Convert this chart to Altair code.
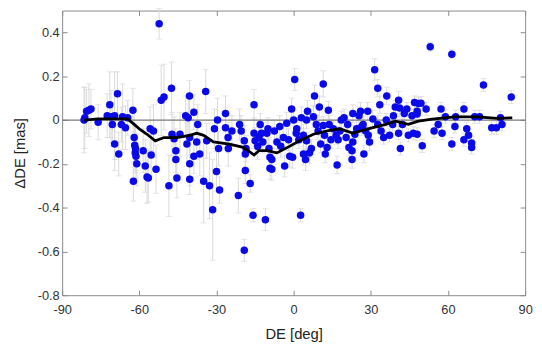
import altair as alt
import pandas as pd

# (DE [deg], dDE [mas], error [mas]), grouped by declination band
PTS_S80_S60 = [
    (-81.5, 0.00, 0.15), (-81.2, 0.01, 0.14), (-80.5, 0.04, 0.10), (-79.6, 0.045, 0.12),
    (-78.8, 0.05, 0.09), (-76.0, -0.01, 0.08), (-72.5, 0.02, 0.10), (-71.5, 0.07, 0.15),
    (-71.0, 0.015, 0.12), (-70.5, -0.02, 0.10), (-69.6, 0.02, 0.20), (-69.6, -0.11, 0.12),
    (-68.5, 0.12, 0.10), (-68.0, -0.155, 0.10), (-67.0, -0.02, 0.08), (-66.5, 0.015, 0.15),
    (-65.4, -0.035, 0.10), (-64.5, 0.01, 0.08), (-62.5, 0.045, 0.10), (-62.0, -0.08, 0.12),
    (-61.8, -0.115, 0.10), (-61.5, -0.13, 0.10), (-61.6, -0.15, 0.09), (-61.0, -0.20, 0.10),
    (-62.3, -0.28, 0.09), (-61.3, -0.165, 0.10),
]
PTS_S60_S45 = [
    (-58.5, -0.14, 0.10), (-57.7, -0.21, 0.12), (-57.0, -0.26, 0.12), (-56.5, -0.265, 0.11),
    (-55.4, -0.16, 0.10), (-55.8, -0.04, 0.10), (-54.5, -0.05, 0.12), (-53.5, -0.225, 0.11),
    (-52.3, 0.44, 0.07), (-51.5, 0.09, 0.16), (-50.4, 0.105, 0.15), (-48.5, -0.30, 0.14),
    (-47.5, 0.145, 0.12), (-47.3, -0.065, 0.10), (-46.5, -0.085, 0.10), (-45.8, -0.14, 0.10),
    (-45.8, -0.18, 0.10), (-45.4, -0.265, 0.09), (-44.2, -0.065, 0.10),
]
PTS_S45_S30 = [
    (-42.0, 0.02, 0.09), (-41.0, 0.01, 0.10), (-40.5, 0.11, 0.07), (-40.4, -0.08, 0.08),
    (-41.5, -0.11, 0.10), (-40.4, -0.20, 0.10), (-40.4, -0.27, 0.07), (-38.8, 0.035, 0.08),
    (-38.8, -0.165, 0.08), (-37.7, -0.10, 0.08), (-37.3, -0.02, 0.09), (-36.5, -0.155, 0.10),
    (-35.0, -0.28, 0.19), (-34.2, 0.13, 0.10), (-33.8, -0.095, 0.08), (-32.7, -0.30, 0.15),
    (-31.5, -0.41, 0.23), (-30.8, -0.04, 0.09), (-30.0, -0.235, 0.09),
]
PTS_S30_S15 = [
    (-29.6, 0.00, 0.10), (-29.2, -0.13, 0.08), (-28.8, -0.32, 0.06), (-26.5, 0.03, 0.08),
    (-26.5, -0.035, 0.09), (-25.5, -0.08, 0.07), (-25.4, -0.13, 0.08), (-24.0, -0.05, 0.07),
    (-21.5, -0.345, 0.08), (-21.0, -0.02, 0.07), (-20.4, -0.05, 0.07), (-19.2, -0.095, 0.07),
    (-18.8, -0.23, 0.06), (-18.5, -0.13, 0.06), (-18.8, -0.155, 0.06), (-19.2, -0.595, 0.05),
    (-16.9, -0.29, 0.04), (-15.8, -0.435, 0.03), (-15.4, 0.07, 0.07), (-15.4, -0.06, 0.07),
    (-15.0, -0.095, 0.06), (-14.0, -0.12, 0.06), (-13.5, -0.08, 0.05),
]
PTS_S15_N00 = [
    (-13.0, -0.02, 0.05), (-12.5, -0.06, 0.06), (-12.0, -0.10, 0.05), (-11.0, -0.455, 0.05),
    (-10.4, -0.06, 0.05), (-10.0, -0.04, 0.05), (-9.6, -0.13, 0.05), (-9.2, -0.17, 0.05),
    (-9.2, -0.22, 0.05), (-8.5, -0.18, 0.05), (-8.5, -0.225, 0.05), (-7.5, -0.05, 0.05),
    (-6.5, -0.10, 0.05), (-5.4, -0.03, 0.05), (-5.0, -0.12, 0.05), (-4.0, -0.08, 0.05),
    (-3.5, -0.21, 0.05), (-2.7, -0.015, 0.05), (-2.0, -0.09, 0.05), (-1.5, -0.165, 0.05),
    (-0.8, 0.05, 0.05), (-0.4, -0.17, 0.05), (0.0, 0.00, 0.05), (0.4, 0.185, 0.05),
]
PTS_N00_N15 = [
    (1.0, -0.06, 0.05), (1.2, -0.04, 0.05), (2.0, -0.09, 0.04), (2.7, -0.435, 0.03),
    (3.0, 0.01, 0.05), (3.8, -0.07, 0.05), (3.8, -0.155, 0.05), (4.6, -0.18, 0.05),
    (5.0, -0.095, 0.04), (5.0, 0.00, 0.04), (5.4, 0.04, 0.05), (6.2, -0.15, 0.05),
    (6.9, -0.13, 0.04), (7.7, 0.015, 0.05), (8.1, 0.11, 0.05), (8.8, -0.02, 0.04),
    (9.5, -0.05, 0.04), (10.0, 0.06, 0.05), (10.5, -0.11, 0.04), (11.5, 0.165, 0.06),
    (11.5, -0.025, 0.04), (12.0, -0.07, 0.04), (12.3, -0.155, 0.04), (13.0, -0.125, 0.04),
    (13.5, 0.045, 0.04), (13.8, -0.02, 0.04), (14.5, -0.09, 0.04),
]
PTS_N15_N30 = [
    (15.4, -0.04, 0.04), (16.5, -0.07, 0.04), (16.9, -0.205, 0.04), (17.3, -0.09, 0.04),
    (18.0, -0.05, 0.04), (18.5, 0.00, 0.04), (19.6, 0.01, 0.04), (20.4, -0.08, 0.04),
    (21.0, -0.02, 0.04), (21.5, -0.125, 0.04), (22.7, -0.14, 0.04), (22.7, -0.18, 0.04),
    (23.0, 0.03, 0.04), (23.0, -0.10, 0.04), (23.8, -0.065, 0.04), (24.5, -0.04, 0.04),
    (25.4, 0.02, 0.04), (26.0, 0.04, 0.04), (26.5, -0.03, 0.04), (27.0, -0.02, 0.04),
    (27.3, -0.155, 0.04), (28.0, -0.05, 0.04), (28.8, 0.04, 0.04), (29.0, -0.07, 0.04),
    (29.5, -0.10, 0.04),
]
PTS_N30_N45 = [
    (30.8, 0.005, 0.04), (31.5, 0.23, 0.05), (32.7, 0.145, 0.04), (32.7, -0.02, 0.04),
    (33.5, 0.07, 0.04), (34.0, -0.05, 0.03), (35.0, -0.08, 0.03), (36.0, 0.00, 0.03),
    (36.2, 0.11, 0.04), (37.3, -0.07, 0.03), (38.5, -0.02, 0.03), (38.8, 0.02, 0.03),
    (39.5, 0.06, 0.03), (40.8, 0.09, 0.04), (40.8, -0.06, 0.03), (41.2, 0.055, 0.04),
    (41.5, -0.13, 0.03), (42.3, -0.02, 0.03), (43.0, 0.03, 0.03), (44.0, 0.05, 0.03),
    (44.6, -0.07, 0.03),
]
PTS_N45_N60 = [
    (46.0, 0.02, 0.03), (46.5, -0.06, 0.03), (47.0, 0.08, 0.03), (48.0, -0.065, 0.03),
    (48.0, 0.04, 0.03), (48.0, 0.027, 0.03), (48.5, 0.075, 0.03), (49.5, 0.077, 0.03),
    (50.0, -0.118, 0.03), (51.5, 0.05, 0.03), (53.1, 0.335, 0.02), (54.6, -0.05, 0.03),
    (56.2, -0.02, 0.03), (57.3, 0.05, 0.03), (57.7, -0.06, 0.03), (59.0, 0.015, 0.03),
]
PTS_N60_N90 = [
    (61.5, 0.30, 0.02), (61.5, -0.11, 0.03), (62.7, -0.03, 0.03), (63.0, 0.015, 0.03),
    (66.2, 0.05, 0.03), (66.2, -0.09, 0.03), (67.3, -0.04, 0.03), (68.0, -0.07, 0.03),
    (69.2, -0.105, 0.03), (69.2, -0.125, 0.03), (70.4, 0.015, 0.03), (72.3, 0.015, 0.03),
    (73.8, 0.16, 0.03), (77.0, -0.035, 0.03), (78.8, -0.035, 0.03), (80.4, 0.01, 0.03),
    (81.0, -0.02, 0.03), (84.6, 0.105, 0.03),
]

# running-mean curve (black line)
LINE_DE = [-81.5, -76.0, -64.6, -62.0, -60.0, -57.0, -53.8, -50.4, -45.4, -40.4, -37.7,
           -35.0, -31.2, -25.0, -19.6, -16.5, -15.4, -13.5, -10.4, -6.5, -2.7, 2.3, 7.7,
           12.7, 17.7, 23.0, 30.8, 35.8, 39.6, 44.6, 48.5, 53.8, 62.7, 71.5, 79.2, 85.0]
LINE_D = [0.000, 0.005, 0.005, -0.020, -0.040, -0.065, -0.095, -0.080, -0.080, -0.070, -0.060,
          -0.070, -0.100, -0.110, -0.125, -0.150, -0.160, -0.140, -0.140, -0.150, -0.127, -0.095,
          -0.065, -0.050, -0.040, -0.060, -0.035, -0.020, -0.005, -0.020, -0.005, 0.004, 0.014,
          0.014, 0.008, 0.010]

X_TICKS = [-90, -60, -30, 0, 30, 60, 90]
Y_TICKS = [-0.8, -0.6, -0.4, -0.2, 0.0, 0.2, 0.4]

rows = (PTS_S80_S60 + PTS_S60_S45 + PTS_S45_S30 + PTS_S30_S15 + PTS_S15_N00 +
        PTS_N00_N15 + PTS_N15_N30 + PTS_N30_N45 + PTS_N45_N60 + PTS_N60_N90)
pts = pd.DataFrame(rows, columns=["DE", "dDE", "err"])
line_df = pd.DataFrame({"DE": LINE_DE, "dDE": LINE_D})

FONT = "Liberation Sans"
GRAY = "#8a8a8a"
xs = alt.Scale(domain=[-90, 90], nice=False, zero=False)
ys = alt.Scale(domain=[-0.8, 0.5], nice=False, zero=False)

x_lab = "(datum.value < 0 ? '-' : '') + format(abs(datum.value), 'd')"
y_lab = "datum.value == 0 ? '0' : (datum.value < 0 ? '-' : '') + format(abs(datum.value), '.1f')"

common = dict(domain=False, grid=False, tickSize=5, tickColor=GRAY, tickWidth=1, offset=-5,
              labelFont=FONT, labelFontSize=13, labelColor="#333333", labelFlush=False,
              labelOverlap=False, labelBound=False, titleFont=FONT, titleFontSize=15,
              titleFontWeight="normal", titleColor="#222222")

x_bottom = alt.Axis(orient="bottom", values=X_TICKS, labelExpr=x_lab, labelPadding=9,
                    title="DE [deg]", titlePadding=10, **common)
y_left = alt.Axis(orient="left", values=Y_TICKS, labelExpr=y_lab, labelPadding=3,
                  title="ΔDE [mas]", titlePadding=10, **common)
x_top = alt.Axis(orient="top", values=X_TICKS, labels=False, title=None, domain=False,
                 grid=False, tickSize=5, tickColor=GRAY, offset=-5)
y_right = alt.Axis(orient="right", values=Y_TICKS, labels=False, title=None, domain=False,
                   grid=False, tickSize=5, tickColor=GRAY, offset=-5)

base = alt.Chart(pts).transform_calculate(lo="datum.dDE - datum.err", hi="datum.dDE + datum.err")
EB = "#d9d9d9"

err_rule = base.mark_rule(color=EB, strokeWidth=1).encode(
    x=alt.X("DE:Q", scale=xs, axis=x_top),
    y=alt.Y("lo:Q", scale=ys, axis=y_right),
    y2="hi:Q",
)
cap_lo = base.mark_tick(color=EB, orient="horizontal", size=6, thickness=1).encode(
    x=alt.X("DE:Q", scale=xs, axis=None), y=alt.Y("lo:Q", scale=ys, axis=None))
cap_hi = base.mark_tick(color=EB, orient="horizontal", size=6, thickness=1).encode(
    x=alt.X("DE:Q", scale=xs, axis=None), y=alt.Y("hi:Q", scale=ys, axis=None))

zero = alt.Chart(pd.DataFrame({"z": [0.0]})).mark_rule(color="#7a7a7a", strokeWidth=1.3).encode(
    y=alt.Y("z:Q", scale=ys, axis=None))

points = alt.Chart(pts).mark_circle(color="#0a0ae8", opacity=1, size=58).encode(
    x=alt.X("DE:Q", scale=xs, axis=x_bottom),
    y=alt.Y("dDE:Q", scale=ys, axis=y_left),
)

line = alt.Chart(line_df).mark_line(color="black", strokeWidth=2.8).encode(
    x=alt.X("DE:Q", scale=xs, axis=None),
    y=alt.Y("dDE:Q", scale=ys, axis=None),
)

chart = alt.layer(err_rule, cap_lo, cap_hi, zero, points, line).resolve_axis(
    x="independent", y="independent"
).properties(
    width=470, height=289,
    autosize=alt.AutoSizeParams(type="none"),
    padding={"left": 55, "top": 0, "right": 9, "bottom": 50},
).configure_view(stroke=GRAY, strokeWidth=1)

chart.save("out.html", embed_options={"renderer": "svg", "actions": False})
